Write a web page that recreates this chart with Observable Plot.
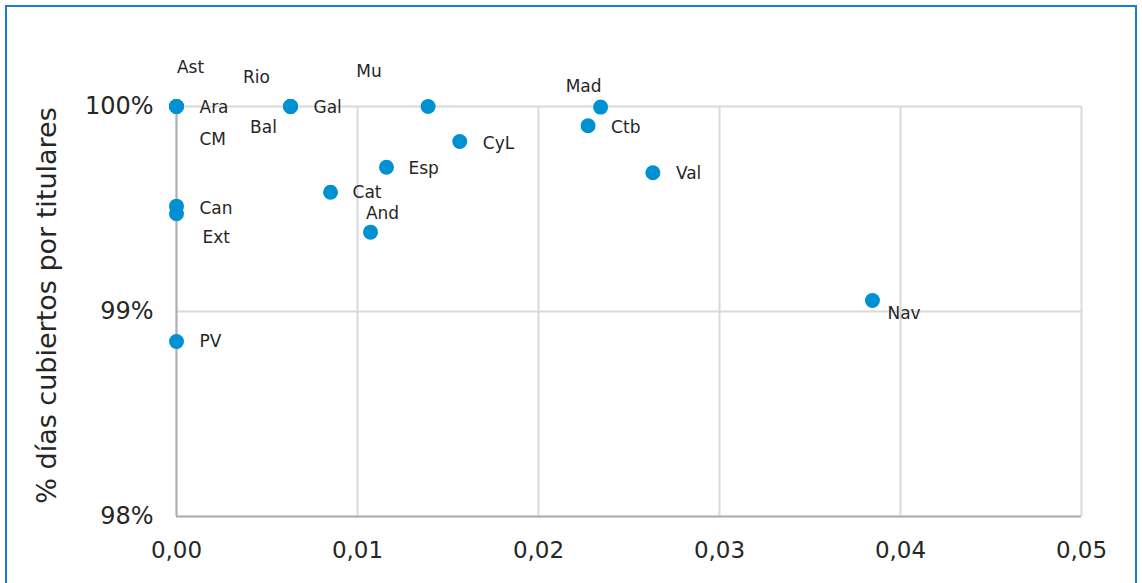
<!DOCTYPE html>
<html>
<head>
<meta charset="utf-8">
<script src="https://cdn.jsdelivr.net/npm/d3@7"></script>
<script src="https://cdn.jsdelivr.net/npm/@observablehq/plot@0.6"></script>
<style>
  html, body { margin: 0; padding: 0; background: #fff; }
  #wrap { position: relative; width: 1142px; height: 583px; overflow: hidden; }
  #frame { position: absolute; left: 5px; top: 5px; width: 1132px; height: 600px; border: 2px solid #1b7fc8; box-sizing: border-box; pointer-events: none; }
  #chart { position: absolute; left: 0; top: 0; }
</style>
</head>
<body>
<div id="wrap"><div id="chart"></div><div id="frame"></div></div>
<script>
// Data
const regions = ["Ast", "Ara", "CM", "Rio", "Bal", "Gal", "Mu", "Mad", "Ctb", "CyL", "Esp", "Val", "Cat", "And", "Can", "Ext", "PV", "Nav"];
const ratio   = [0, 0, 0, 0.0063, 0.0063, 0.0063, 0.0139, 0.02343, 0.02274, 0.01565, 0.0116, 0.02632, 0.00851, 0.01072, 0, 0, 0, 0.03845];
const covered = [1.0, 1.0, 1.0, 1.0, 1.0, 1.0, 1.0, 0.99997, 0.99906, 0.99829, 0.99704, 0.99677, 0.99582, 0.99387, 0.99514, 0.99477, 0.98854, 0.99054];
const xTicks = [0, 0.01, 0.02, 0.03, 0.04, 0.05];
const yTicks = [0.98, 0.99, 1.0];
const yTitle = "% días cubiertos por titulares";

const data = regions.map((name, i) => ({name, x: ratio[i], y: covered[i]}));

// Label placement (layout, in pixels relative to each point)
const labelPlacement = {
  Ast: {dx: 14, dy: -39, anchor: "middle"},
  Ara: {dx: 23, dy: 1, anchor: "start"},
  CM:  {dx: 23, dy: 33, anchor: "start"},
  Rio: {dx: -34, dy: -29, anchor: "middle"},
  Bal: {dx: -27, dy: 21, anchor: "middle"},
  Gal: {dx: 23, dy: 1, anchor: "start"},
  Mu:  {dx: -59, dy: -35, anchor: "middle"},
  Mad: {dx: -17, dy: -21, anchor: "middle"},
  Ctb: {dx: 23, dy: 2, anchor: "start"},
  CyL: {dx: 23, dy: 2, anchor: "start"},
  Esp: {dx: 22, dy: 1, anchor: "start"},
  Val: {dx: 23, dy: 1, anchor: "start"},
  Cat: {dx: 22, dy: 0, anchor: "start"},
  And: {dx: 12, dy: -19, anchor: "middle"},
  Can: {dx: 23, dy: 2, anchor: "start"},
  Ext: {dx: 26, dy: 24, anchor: "start"},
  PV:  {dx: 23, dy: 0, anchor: "start"},
  Nav: {dx: 15, dy: 13, anchor: "start"}
};

const dotColor = "#0091d2";
const gridColor = "#d9d9d9";
const axisColor = "#b0b0b0";
const textColor = "#262626";

const labelMarks = data.map(d => {
  const p = labelPlacement[d.name];
  return Plot.text([d], {
    x: "x", y: "y", text: "name",
    dx: p.dx, dy: p.dy, textAnchor: p.anchor,
    fontSize: 17, fill: textColor
  });
});

const chart = Plot.plot({
  width: 1142,
  height: 583,
  marginLeft: 176,
  marginRight: 61,
  marginTop: 106,
  marginBottom: 67,
  style: {fontFamily: "'DejaVu Sans', Verdana, sans-serif", background: "transparent", overflow: "visible"},
  x: {domain: [0, 0.05], label: null},
  y: {domain: [0.98, 1.0], label: null},
  marks: [
    Plot.gridX(xTicks, {stroke: gridColor, strokeOpacity: 1, strokeWidth: 2}),
    Plot.gridY(yTicks, {stroke: gridColor, strokeOpacity: 1, strokeWidth: 2}),
    Plot.ruleX([0], {stroke: axisColor, strokeWidth: 2}),
    Plot.ruleY([0.98], {stroke: axisColor, strokeWidth: 2}),
    Plot.axisX(xTicks, {tickSize: 0, tickPadding: 25, fontSize: 23, fill: textColor,
      tickFormat: d => d.toFixed(2).replace(".", ","), label: null}),
    Plot.axisY(yTicks, {tickSize: 0, tickPadding: 23, fontSize: 24, fill: textColor,
      tickFormat: d => Math.round(d * 100) + "%", label: null}),
    Plot.text([yTitle], {frameAnchor: "left", text: d => d, rotate: -90, dx: -129, dy: -6,
      fontSize: 27, fill: textColor, textAnchor: "middle"}),
    Plot.dot(data, {x: "x", y: "y", r: 7.5, fill: dotColor, stroke: "none"}),
    ...labelMarks
  ]
});

document.getElementById("chart").appendChild(chart);
</script>
</body>
</html>
